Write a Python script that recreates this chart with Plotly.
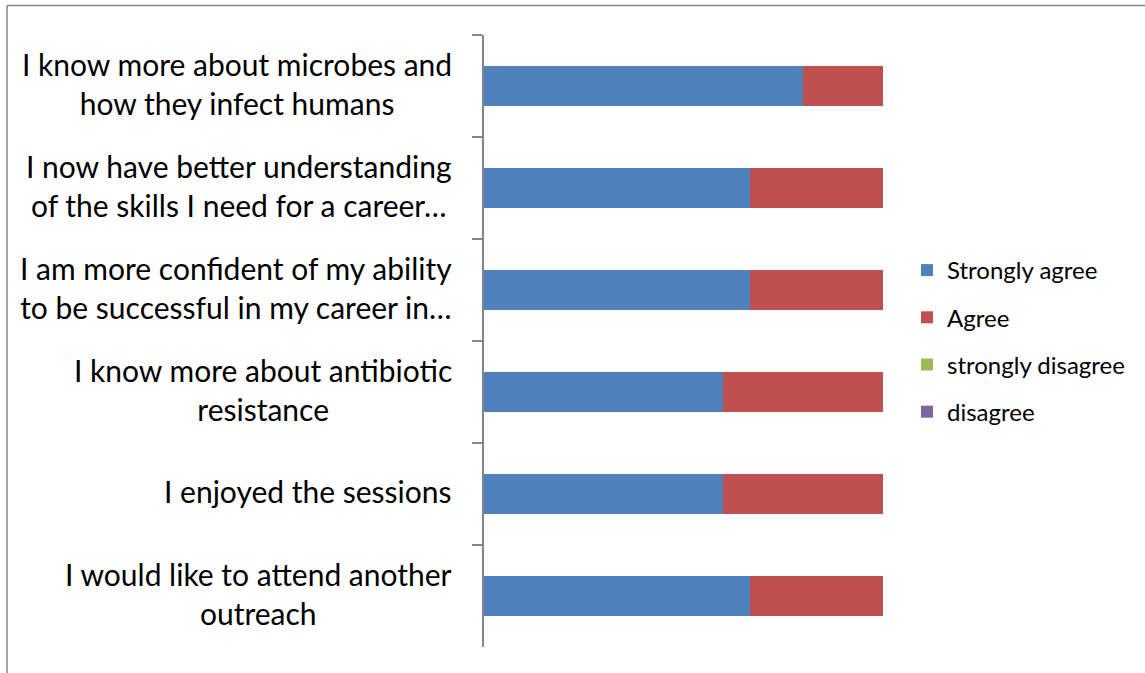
import plotly.graph_objects as go

categories = [
    "I know more about microbes and<br>how they infect humans",
    "I now have better understanding<br>of the skills I need for a career…",
    "I am more confident of my ability<br>to be successful in my career in…",
    "I know more about antibiotic<br>resistance",
    "I enjoyed the sessions",
    "I would like to attend another<br>outreach",
]
series_names = ["Strongly agree", "Agree", "strongly disagree", "disagree"]
strongly_agree = [12, 10, 10, 9, 9, 10]
agree = [3, 5, 5, 6, 6, 5]
strongly_disagree = [0, 0, 0, 0, 0, 0]
disagree = [0, 0, 0, 0, 0, 0]
series_values = [strongly_agree, agree, strongly_disagree, disagree]
colors = ["#4F81BD", "#C0504D", "#9BBB59", "#8064A2"]

FONT = "Lato"
W, H = 1145, 673
ML, MR, MT, MB = 484, 262, 35, 26
PW, PH = W - ML - MR, H - MT - MB

fig = go.Figure()
for i, (name, vals) in enumerate(zip(series_names, series_values)):
    fig.add_trace(go.Bar(
        y=categories, x=vals, name=name, orientation="h",
        marker=dict(color=colors[i], line=dict(width=0)),
        legendgroup=name,
    ))

annotations = []
for c in categories:
    annotations.append(dict(
        x=(454 - ML) / PW, xref="paper", y=c, yref="y", yshift=3,
        text=c, showarrow=False, xanchor="right", yanchor="middle",
        align="center", font=dict(family=FONT, size=30, color="#000000"),
    ))

def px_x(p):
    return (p - ML) / PW

def px_y(p):
    return (H - MB - p) / PH

shapes = [
    dict(type="line", xref="paper", yref="paper", x0=px_x(7), x1=px_x(1150),
         y0=px_y(5.5), y1=px_y(5.5), line=dict(color="#868686", width=1.5)),
    dict(type="line", xref="paper", yref="paper", x0=px_x(7), x1=px_x(7),
         y0=px_y(5.5), y1=px_y(680), line=dict(color="#868686", width=1.5)),
]

fig.update_layout(
    width=W, height=H,
    margin=dict(l=ML, r=MR, t=MT, b=MB, pad=0),
    barmode="stack", bargap=0.6,
    plot_bgcolor="white", paper_bgcolor="white",
    xaxis=dict(range=[0, 15], visible=False, showgrid=False, zeroline=False),
    yaxis=dict(
        type="category", range=[5.5, -0.5], showticklabels=False,
        showline=True, linecolor="#868686", linewidth=1.5,
        ticks="outside", tickson="boundaries", ticklen=10,
        tickcolor="#868686", tickwidth=1.5, showgrid=False, zeroline=False,
    ),
    legend=dict(
        x=px_x(907), y=0.5, xanchor="left", yanchor="middle",
        traceorder="grouped", tracegroupgap=13,
        font=dict(family=FONT, size=24, color="#000000"),
        bgcolor="rgba(0,0,0,0)",
    ),
    annotations=annotations,
    shapes=shapes,
    showlegend=True,
)

fig.write_html(
    "out.html",
    config={"displayModeBar": False},
    post_script="document.body.style.margin='0';document.body.style.overflow='hidden';",
)
